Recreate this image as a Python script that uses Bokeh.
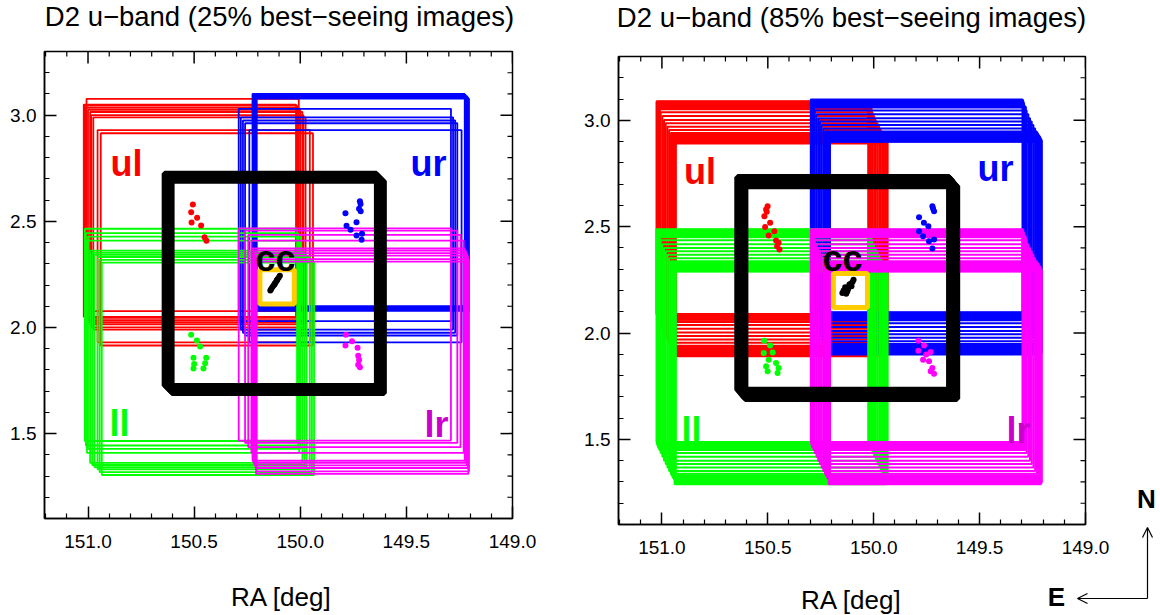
from bokeh.plotting import figure
from bokeh.layouts import row
from bokeh.models import Range1d, FixedTicker, Label, Arrow, OpenHead, PrintfTickFormatter
from bokeh.embed import file_html
from bokeh.resources import INLINE

FONT = "Liberation Sans"

# ---------------- axes ----------------
X_RANGE = (151.205, 149.0)
Y_RANGE = (1.1, 3.3)
X_MAJOR = [151.0, 150.5, 150.0, 149.5, 149.0]
X_MINOR = [151.2, 151.1, 150.9, 150.8, 150.7, 150.6, 150.4, 150.3, 150.2, 150.1,
           149.9, 149.8, 149.7, 149.6, 149.4, 149.3, 149.2, 149.1]
Y_MAJOR = [1.5, 2.0, 2.5, 3.0]
Y_MINOR = [1.2, 1.3, 1.4, 1.6, 1.7, 1.8, 1.9, 2.1, 2.2, 2.3, 2.4, 2.6, 2.7, 2.8, 2.9, 3.1, 3.2]

TITLES = ["D2 u\u2212band (25% best\u2212seeing images)", "D2 u\u2212band (85% best\u2212seeing images)"]
XLABEL = "RA [deg]"
TILE_SIDE = 1.0

# ---------------- 25% panel: tile centres (RA, Dec) ----------------
UL25_X = [150.507, 150.52, 150.515, 150.51, 150.50, 150.49, 150.485, 150.475, 150.455, 150.44]
UL25_Y = [2.577, 2.55, 2.545, 2.535, 2.525, 2.515, 2.50, 2.49, 2.43, 2.415]
UR25_X = [149.725, 149.72, 149.715, 149.71, 149.705, 149.79, 149.78, 149.77, 149.76, 149.74]
UR25_Y = [2.600, 2.595, 2.590, 2.585, 2.578, 2.530, 2.490, 2.475, 2.462, 2.430]
LL25_X = [150.515, 150.51, 150.50, 150.505, 150.49, 150.48, 150.47, 150.455, 150.445, 150.435]
LL25_Y = [1.965, 1.944, 1.928, 1.909, 1.862, 1.852, 1.842, 1.832, 1.818, 1.805]
LR25_X = [149.79, 149.76, 149.745, 149.73, 149.725, 149.72, 149.715, 149.71, 149.705, 149.708]
LR25_Y = [1.967, 1.956, 1.936, 1.909, 1.872, 1.862, 1.85, 1.838, 1.822, 1.81]
CC25_X = [150.14, 150.133, 150.126, 150.119, 150.112, 150.105]
CC25_Y = [2.225, 2.218, 2.211, 2.204, 2.197, 2.19]

# ---------------- 85% panel: dither offsets and field centres ----------------
D85_DX = [0.045, 0.044, 0.042, 0.043, 0.040, 0.041, 0.038, 0.036, 0.032, 0.026, 0.018, 0.010,
          0.002, -0.006, -0.014, -0.022, -0.028, -0.032, -0.036, -0.039, -0.041, -0.043,
          -0.045, -0.044, -0.040, -0.034, 0.030, -0.025, 0.039, -0.042]
D85_DY = [0.100, 0.097, 0.094, 0.090, 0.087, 0.083, 0.079, 0.072, 0.062, 0.048, 0.030, 0.012,
          -0.004, -0.020, -0.036, -0.050, -0.060, -0.067, -0.073, -0.078, -0.083, -0.087,
          -0.091, -0.095, -0.099, -0.070, 0.066, -0.056, 0.076, -0.097]
FIELD85 = {"ul": (150.48, 2.49), "ur": (149.752, 2.498), "ll": (150.48, 1.888), "lr": (149.752, 1.888)}
CC85_X = [150.143, 150.139, 150.135, 150.131, 150.127, 150.123, 150.119, 150.115, 150.111, 150.107]
CC85_Y = [2.232, 2.228, 2.224, 2.219, 2.214, 2.209, 2.204, 2.199, 2.195, 2.191]

# ---------------- source positions (dots) ----------------
UL25_PX = [150.506, 150.514, 150.486, 150.512, 150.467, 150.451, 150.442]
UL25_PY = [2.579, 2.543, 2.517, 2.494, 2.480, 2.425, 2.409]
UR25_PX = [149.719, 149.716, 149.723, 149.715, 149.787, 149.735, 149.782, 149.763, 149.735, 149.709, 149.711]
UR25_PY = [2.595, 2.582, 2.559, 2.547, 2.538, 2.496, 2.479, 2.460, 2.433, 2.441, 2.413]
LL25_PX = [150.514, 150.487, 150.472, 150.503, 150.500, 150.503, 150.443, 150.448, 150.456]
LL25_PY = [1.966, 1.938, 1.910, 1.857, 1.828, 1.807, 1.857, 1.831, 1.807]
LR25_PX = [149.785, 149.756, 149.787, 149.730, 149.727, 149.723, 149.727, 149.719]
LR25_PY = [1.966, 1.935, 1.915, 1.904, 1.867, 1.847, 1.824, 1.812]
CC25_PX = [150.096, 150.102, 150.108, 150.113, 150.119, 150.125, 150.131, 150.137, 150.141, 150.110, 150.121]
CC25_PY = [2.243, 2.234, 2.226, 2.217, 2.208, 2.199, 2.190, 2.181, 2.174, 2.222, 2.203]

UL85_PX = [150.501, 150.508, 150.516, 150.489, 150.513, 150.469, 150.496, 150.461, 150.449, 150.456, 150.445, 150.505]
UL85_PY = [2.596, 2.581, 2.549, 2.518, 2.498, 2.479, 2.459, 2.435, 2.424, 2.408, 2.393, 2.570]
UR85_PX = [149.723, 149.715, 149.786, 149.763, 149.742, 149.786, 149.767, 149.739, 149.715, 149.723, 149.720]
UR85_PY = [2.596, 2.573, 2.544, 2.518, 2.502, 2.479, 2.455, 2.432, 2.440, 2.397, 2.585]
LL85_PX = [150.516, 150.489, 150.519, 150.477, 150.496, 150.461, 150.508, 150.449, 150.501, 150.454]
LL85_PY = [1.964, 1.941, 1.906, 1.909, 1.875, 1.859, 1.844, 1.836, 1.820, 1.812]
LR85_PX = [149.789, 149.762, 149.789, 149.731, 149.752, 149.767, 149.739, 149.723, 149.731, 149.715]
LR85_PY = [1.964, 1.941, 1.917, 1.911, 1.899, 1.875, 1.867, 1.836, 1.820, 1.809]
CC85_PX = [150.095, 150.100, 150.108, 150.112, 150.118, 150.122, 150.128, 150.132, 150.138, 150.142,
           150.148, 150.115, 150.125, 150.135, 150.105, 150.130]
CC85_PY = [2.250, 2.240, 2.232, 2.222, 2.215, 2.205, 2.210, 2.198, 2.192, 2.200, 2.188, 2.228,
           2.195, 2.215, 2.220, 2.185]

# central small box (gold)
GOLD_X = [150.109, 150.11]
GOLD_Y = [2.191, 2.20]
GOLD_SIDE = [0.162, 0.161]

COLORS = {"ul": "#FF0000", "ur": "#0000FF", "ll": "#00FF00", "lr": "#FF00FF", "cc": "#000000"}
LABEL_COLORS = {"ul": "#FF0000", "ur": "#0000FF", "ll": "#00FF00", "lr": "#CC00CC", "cc": "#000000"}

MAJOR_TICK_PX = 12
MINOR_TICK_PX = 5
W, H = 1160, 615


def no_align(p):
    if "frame_align" in p.properties():
        p.frame_align = False


def make_panel(width, height, bl, br, bt, bb):
    p = figure(width=width, height=height, x_range=Range1d(*X_RANGE), y_range=Range1d(*Y_RANGE),
               output_backend="svg", toolbar_location=None,
               min_border_left=bl, min_border_right=br, min_border_top=bt, min_border_bottom=bb)
    no_align(p)
    p.grid.visible = False
    p.outline_line_color = "black"
    p.outline_line_width = 1.5
    p.background_fill_color = "white"
    p.border_fill_color = "white"
    p.xaxis.ticker = FixedTicker(ticks=X_MAJOR, minor_ticks=X_MINOR)
    p.yaxis.ticker = FixedTicker(ticks=Y_MAJOR, minor_ticks=Y_MINOR)
    for ax in p.axis:
        ax.formatter = PrintfTickFormatter(format="%.1f")
        ax.axis_line_width = 1.5
        ax.axis_line_color = "black"
        ax.major_tick_line_width = 1.5
        ax.minor_tick_line_width = 1.2
        ax.major_tick_in = MAJOR_TICK_PX
        ax.major_tick_out = 0
        ax.minor_tick_in = MINOR_TICK_PX
        ax.minor_tick_out = 0
        ax.major_label_text_font = FONT
        ax.major_label_text_font_size = "19px"
        ax.major_label_text_color = "black"
    p.xaxis.major_label_standoff = 16
    p.yaxis.major_label_standoff = 8
    return p


def mirror_ticks(p, fw, fh):
    # ticks on the top and right edges of the frame, from the same tick lists
    dx = (X_RANGE[0] - X_RANGE[1]) / fw
    dy = (Y_RANGE[1] - Y_RANGE[0]) / fh
    for ticks, ln, lw in [(X_MAJOR, MAJOR_TICK_PX, 1.5), (X_MINOR, MINOR_TICK_PX, 1.2)]:
        p.segment(x0=ticks, x1=ticks, y0=[Y_RANGE[1]] * len(ticks),
                  y1=[Y_RANGE[1] - ln * dy] * len(ticks), line_color="black", line_width=lw)
    for ticks, ln, lw in [(Y_MAJOR, MAJOR_TICK_PX, 1.5), (Y_MINOR, MINOR_TICK_PX, 1.2)]:
        p.segment(x0=[X_RANGE[1]] * len(ticks), x1=[X_RANGE[1] + ln * dx] * len(ticks),
                  y0=ticks, y1=ticks, line_color="black", line_width=lw)


def to_data(frame, px, py):
    L, T, fw, fh = frame
    x = X_RANGE[0] - (px - L) / fw * (X_RANGE[0] - X_RANGE[1])
    y = Y_RANGE[1] - (py - T) / fh * (Y_RANGE[1] - Y_RANGE[0])
    return x, y


def label(p, x, y, s, size_px, color="black", bold=False):
    p.add_layout(Label(x=x, y=y, text=s, text_font=FONT, text_font_size="%gpx" % size_px,
                       text_color=color, text_font_style="bold" if bold else "normal",
                       text_align="center", text_baseline="middle"))


def text_in(p, frame, px, py_base, s, size_px, color="black", bold=False):
    # py_base: canvas y of the text baseline; label is centred on its box
    x, y = to_data(frame, px, py_base - 0.3465 * size_px)
    label(p, x, y, s, size_px, color, bold)


def tiles(p, xs, ys, color, lw):
    p.rect(x=xs, y=ys, width=TILE_SIDE, height=TILE_SIDE, fill_color=None, line_color=color,
           line_width=lw)


# frames in canvas px: left, top, width, height
FL = (44, 51, 468, 467)
FR = (38, 56, 467, 468)

# ----- left panel (25%) -----
p1 = make_panel(580, H, 44, 580 - 44 - 468, 51, H - 51 - 467)
tiles(p1, UL25_X, UL25_Y, COLORS["ul"], 1.8)
tiles(p1, UR25_X, UR25_Y, COLORS["ur"], 1.8)
tiles(p1, LL25_X, LL25_Y, COLORS["ll"], 1.8)
tiles(p1, LR25_X, LR25_Y, COLORS["lr"], 1.8)
tiles(p1, CC25_X, CC25_Y, COLORS["cc"], 5.5)
p1.rect(x=[GOLD_X[0]], y=[GOLD_Y[0]], width=GOLD_SIDE[0], height=GOLD_SIDE[0], fill_color=None,
        line_color="#FFCC00", line_width=5)
for (xs, ys, key) in [(UL25_PX, UL25_PY, "ul"), (UR25_PX, UR25_PY, "ur"), (LL25_PX, LL25_PY, "ll"),
                      (LR25_PX, LR25_PY, "lr"), (CC25_PX, CC25_PY, "cc")]:
    p1.scatter(xs, ys, size=6, color=COLORS[key], line_width=0)
mirror_ticks(p1, FL[2], FL[3])

# ----- right panel (85%) -----
p2 = make_panel(580, H, 38, 580 - 38 - 467, 56, H - 56 - 468)
for key in ["ul", "ur", "ll", "lr"]:
    cx, cy = FIELD85[key]
    tiles(p2, [cx + d for d in D85_DX], [cy + d for d in D85_DY], COLORS[key], 2.0)
tiles(p2, CC85_X, CC85_Y, COLORS["cc"], 6.5)
p2.rect(x=[GOLD_X[1]], y=[GOLD_Y[1]], width=GOLD_SIDE[1], height=GOLD_SIDE[1], fill_color=None,
        line_color="#FFCC00", line_width=5)
for (xs, ys, key) in [(UL85_PX, UL85_PY, "ul"), (UR85_PX, UR85_PY, "ur"), (LL85_PX, LL85_PY, "ll"),
                      (LR85_PX, LR85_PY, "lr"), (CC85_PX, CC85_PY, "cc")]:
    p2.scatter(xs, ys, size=6, color=COLORS[key], line_width=0)
mirror_ticks(p2, FR[2], FR[3])

for (p, F, pos) in [(p1, FL, {"ul": (126, 175), "ur": (428, 175), "ll": (119, 435), "lr": (436, 436), "cc": (275, 270)}),
                    (p2, FR, {"ul": (119.5, 183), "ur": (415, 180), "ll": (111, 442), "lr": (438, 442), "cc": (262, 270)})]:
    for key, (px, py) in pos.items():
        text_in(p, F, px, py, key, 36, LABEL_COLORS[key], bold=True)

# ----- transparent overlay in page pixels: titles, axis titles, compass -----
p3 = figure(width=W, height=H, x_range=Range1d(0, W), y_range=Range1d(H, 0),
            output_backend="svg", toolbar_location=None, min_border=0,
            x_axis_location=None, y_axis_location=None)
no_align(p3)
p3.grid.visible = False
p3.outline_line_color = None
p3.background_fill_color = None
p3.border_fill_color = None
p3.margin = (0, 0, 0, -W)


def page_text(s, px, py_base, size_px, bold=False):
    label(p3, px, py_base - 0.3465 * size_px, s, size_px, bold=bold)


page_text(TITLES[0], 279, 25.5, 27.5)
page_text(TITLES[1], 851, 27, 27.5)
page_text(XLABEL, 281, 606, 26)
page_text(XLABEL, 851, 608.5, 26)
page_text("N", 1146, 508, 26, bold=True)
page_text("E", 1056, 606, 26, bold=True)
p3.add_layout(Arrow(end=OpenHead(size=10, line_width=1.2), x_start=1147, y_start=598, x_end=1147, y_end=527,
                    line_width=1.2))
p3.add_layout(Arrow(end=OpenHead(size=10, line_width=1.2), x_start=1147, y_start=598, x_end=1077, y_end=598,
                    line_width=1.2))

layout = row(p1, p2, p3)
open("out.html", "w").write(file_html(layout, INLINE))
